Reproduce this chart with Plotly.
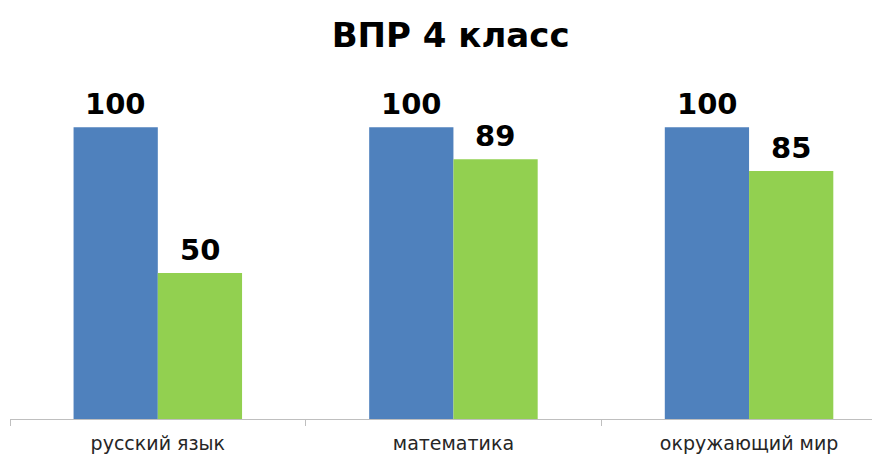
import plotly.graph_objects as go

categories = ["русский язык", "математика", "окружающий мир"]
series_blue = [100, 100, 100]
series_green = [50, 89, 85]

BLUE = "#4F81BD"
GREEN = "#92D050"
LABEL_FONT = dict(family="DejaVu Sans", size=29, color="#000000", weight="bold")

fig = go.Figure()
fig.add_trace(go.Bar(x=categories, y=series_blue, marker_color=BLUE, marker_line_width=0))
fig.add_trace(go.Bar(x=categories, y=series_green, marker_color=GREEN, marker_line_width=0))

# value labels above each bar, offset half a bar width to the side
for cat, vb, vg in zip(categories, series_blue, series_green):
    for val, dx in ((vb, -42), (vg, 42)):
        fig.add_annotation(
            x=cat, y=val, text=str(val), showarrow=False,
            xshift=dx, yshift=4, yanchor="bottom",
            font=LABEL_FONT,
        )

fig.update_layout(
    width=880,
    height=454,
    barmode="group",
    bargap=0.43,
    bargroupgap=0,
    showlegend=False,
    plot_bgcolor="white",
    paper_bgcolor="white",
    margin=dict(l=2, r=0, t=90, b=43),
    title=dict(
        text="ВПР 4 класс",
        x=0.503,
        xanchor="center",
        y=1 - 27 / 454,
        yanchor="middle",
        font=dict(family="DejaVu Sans", size=34, color="#000000", weight="bold"),
    ),
    xaxis=dict(
        range=[-0.5, 2.47],
        showline=True,
        linecolor="#BFBFBF",
        linewidth=1,
        ticks="outside",
        tickson="boundaries",
        ticklen=6,
        tickcolor="#BFBFBF",
        ticklabelstandoff=7,
        tickfont=dict(family="DejaVu Sans", size=19, color="#262626"),
        showgrid=False,
    ),
    yaxis=dict(range=[0, 110], visible=False, showgrid=False),
)

fig.write_html("out.html")
